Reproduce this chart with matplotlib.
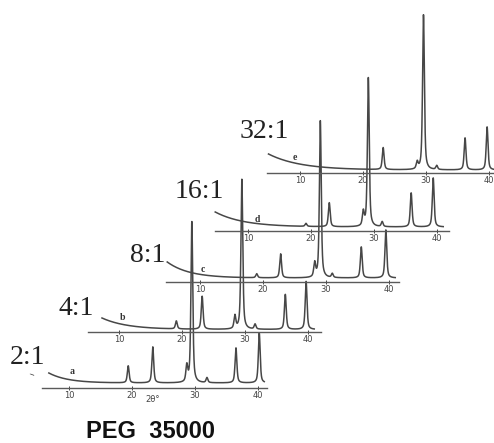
import numpy as np
import matplotlib
matplotlib.use("Agg")
import matplotlib.pyplot as plt

# ---------------- data ----------------
ratios = ["2:1", "4:1", "8:1", "16:1", "32:1"]
letters = ["a", "b", "c", "d", "e"]
tick_values = [10, 20, 30, 40]

# peak positions (2theta, deg) and heights (arbitrary intensity units)
peaks_a_pos = [19.4, 23.3, 28.7, 29.5, 31.9, 36.5, 40.2]
peaks_a_h = [17, 36, 16, 161, 5, 35, 50]
peaks_b_pos = [19.1, 23.2, 28.4, 29.5, 31.6, 36.4, 39.7]
peaks_b_h = [8, 33, 13, 150, 5, 35, 48]
peaks_c_pos = [19.0, 22.8, 28.2, 29.1, 31.0, 35.6, 39.5]
peaks_c_h = [4, 24, 14, 157, 4, 31, 48]
peaks_d_pos = [19.2, 22.9, 28.3, 29.1, 31.3, 35.9, 39.4]
peaks_d_h = [3, 24, 14, 149, 5, 34, 49]
peaks_e_pos = [23.2, 28.6, 29.6, 31.7, 36.2, 39.7]
peaks_e_h = [22, 7, 155, 4, 32, 43]

# low-angle background: start angle, start excess, base level, decay
bg_start = [6.8, 7.3, 4.8, 4.8, 5.0]
bg_amp = [10, 11.5, 16, 15, 16]
bg_base = [5, 2.5, 4, 4, 3]
bg_decay = [3.0, 4.0, 3.5, 4.5, 5.0]

peak_pos = [peaks_a_pos, peaks_b_pos, peaks_c_pos, peaks_d_pos, peaks_e_pos]
peak_h = [peaks_a_h, peaks_b_h, peaks_c_h, peaks_d_h, peaks_e_h]

# ---------------- layout (pixels) ----------------
W, H = 494, 443
px_per_deg = 6.3
origin_x10 = [69, 119, 200, 248, 300]     # pixel x of 2theta = 10
baseline_y = [388, 332, 282, 231, 173]    # pixel y (from top) of baseline
theta_lo = [5.7, 5.1, 4.6, 4.8, 4.7]
theta_hi = [41.4, 42.0, 41.6, 41.9, 41.9]
axh = 40  # axes height in px -> 1 data unit = 1 px

ratio_xy = [(10, 364), (58, 315), (130, 262), (175, 198), (240, 138)]
letter_xy = [(10.5, 16), (10.6, 15), (10.5, 13), (11.4, 11), (9.2, 16)]

line_col = "#474747"

fig = plt.figure(figsize=(W / 100, H / 100), dpi=100)
fig.patch.set_facecolor("white")


def pv(x, x0, h, fwhm=0.34, eta=0.6):
    g = np.exp(-4 * np.log(2) * (x - x0) ** 2 / fwhm ** 2)
    l = 1.0 / (1 + 4 * (x - x0) ** 2 / fwhm ** 2)
    return h * (eta * l + (1 - eta) * g)


for i in range(5):
    lo, hi = theta_lo[i], theta_hi[i]
    left_px = origin_x10[i] - (10 - lo) * px_per_deg
    width_px = (hi - lo) * px_per_deg
    ax = fig.add_axes([left_px / W, (H - baseline_y[i]) / H, width_px / W, axh / H])
    ax.set_xlim(lo, hi)
    ax.set_ylim(0, axh)
    ax.patch.set_visible(False)
    for s in ["top", "left", "right"]:
        ax.spines[s].set_visible(False)
    ax.spines["bottom"].set_color("#5a5a5a")
    ax.spines["bottom"].set_linewidth(1.0)
    ax.set_yticks([])
    ax.set_xticks(tick_values)
    ax.set_xticklabels([str(t) for t in tick_values])
    ax.tick_params(axis="x", direction="inout", length=3, width=0.7, colors="#444444",
                   labelsize=6, pad=0.5)

    x = np.arange(bg_start[i], 41.0, 0.01)
    y = bg_base[i] + bg_amp[i] * np.exp(-(x - bg_start[i]) / bg_decay[i])
    for p, h in zip(peak_pos[i], peak_h[i]):
        y = y + pv(x, p, h)
    ax.plot(x, y, color=line_col, lw=1.1, clip_on=False, zorder=3)

    lx, ly = letter_xy[i]
    ax.text(lx, ly, letters[i], fontsize=7, fontweight="bold", family="Liberation Serif",
            color="#333333", ha="center", va="center")

    if i == 0:
        ax.text(23.2, -12, "2θ°", fontsize=6, color="#444444", ha="center", va="center")

for (rx, ry), r in zip(ratio_xy, ratios):
    fig.text(rx / W, 1 - ry / H, r, fontsize=20, family="Liberation Serif",
             color="#222222", ha="left", va="baseline")

fig.text(31 / W, 1 - 374 / H, "–", fontsize=8, color="#444444", rotation=-20,
         ha="center", va="center")

fig.text(150 / W, 1 - 438 / H, "PEG  35000", fontsize=17, fontweight="bold",
         family="Liberation Sans", color="#111111", ha="center", va="baseline")

fig.savefig("out.png", dpi=100, facecolor="white")
